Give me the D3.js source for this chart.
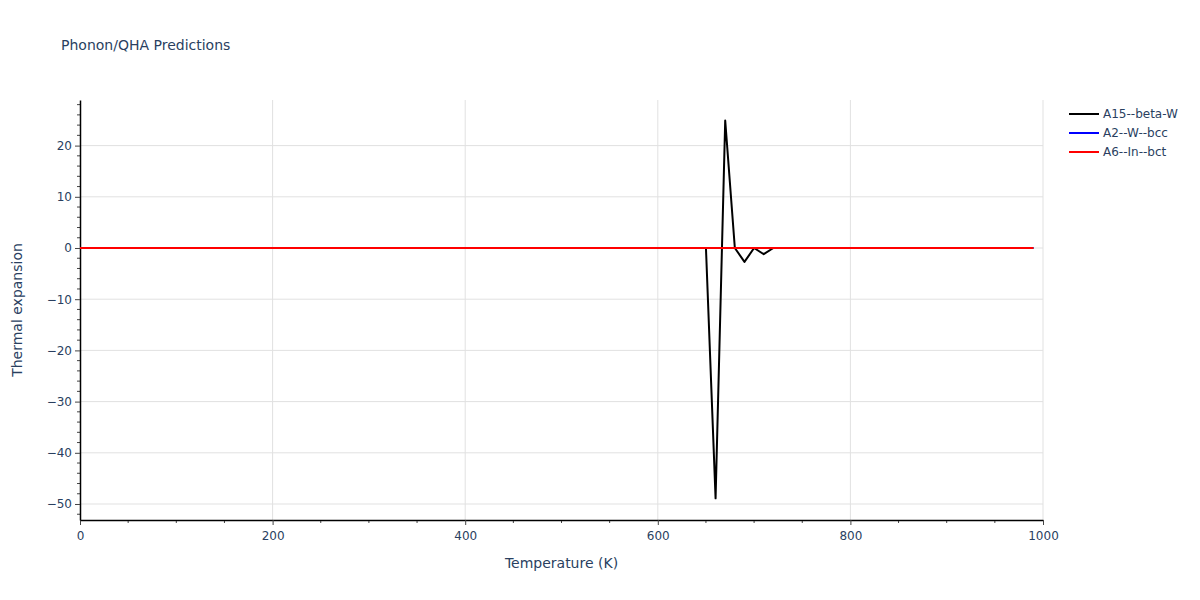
<!DOCTYPE html>
<html><head><meta charset="utf-8">
<script src="https://cdn.jsdelivr.net/npm/d3@7"></script>
<style>body{margin:0;background:#fff;} text{font-family:"DejaVu Sans",sans-serif;}</style>
</head><body><svg id="c" width="1200" height="600"></svg>
<script>
const temperatures = [0,10,20,30,40,50,60,70,80,90,100,110,120,130,140,150,160,170,180,190,200,210,220,230,240,250,260,270,280,290,300,310,320,330,340,350,360,370,380,390,400,410,420,430,440,450,460,470,480,490,500,510,520,530,540,550,560,570,580,590,600,610,620,630,640,650,660,670,680,690,700,710,720,730,740,750,760,770,780,790,800,810,820,830,840,850,860,870,880,890,900,910,920,930,940,950,960,970,980,990];
const a15Values = [0,0,0,0,0,0,0,0,0,0,0,0,0,0,0,0,0,0,0,0,0,0,0,0,0,0,0,0,0,0,0,0,0,0,0,0,0,0,0,0,0,0,0,0,0,0,0,0,0,0,0,0,0,0,0,0,0,0,0,0,0,0,0,0,0,0,-48.9,24.9,0,-2.7,0,-1.2,0,0,0,0,0,0,0,0,0,0,0,0,0,0,0,0,0,0,0,0,0,0,0,0,0,0,0,0];
const a2Values = [0,0,0,0,0,0,0,0,0,0,0,0,0,0,0,0,0,0,0,0,0,0,0,0,0,0,0,0,0,0,0,0,0,0,0,0,0,0,0,0,0,0,0,0,0,0,0,0,0,0,0,0,0,0,0,0,0,0,0,0,0,0,0,0,0,0,0,0,0,0,0,0,0,0,0,0,0,0,0,0,0,0,0,0,0,0,0,0,0,0,0,0,0,0,0,0,0,0,0,0];
const a6Values = [0,0,0,0,0,0,0,0,0,0,0,0,0,0,0,0,0,0,0,0,0,0,0,0,0,0,0,0,0,0,0,0,0,0,0,0,0,0,0,0,0,0,0,0,0,0,0,0,0,0,0,0,0,0,0,0,0,0,0,0,0,0,0,0,0,0,0,0,0,0,0,0,0,0,0,0,0,0,0,0,0,0,0,0,0,0,0,0,0,0,0,0,0,0,0,0,0,0,0,0];
const seriesNames = ["A15--beta-W","A2--W--bcc","A6--In--bct"];
const seriesColors = ["#000000","#0000ff","#ff0000"];
const xTicks = [0,200,400,600,800,1000];
const yTicks = [-50,-40,-30,-20,-10,0,10,20];

const svg = d3.select("#c");
const L=80, R=1043, T=100, B=520;
const x = d3.scaleLinear().domain([0,1000]).range([L,R]);
const y = d3.scaleLinear().domain([-53.125,28.906]).range([B,T]);
const txt = "#2a3f5f";
const FF = "'DejaVu Sans',sans-serif";

// grid
svg.append("g").selectAll("line").data(xTicks.filter(d=>d>0)).join("line")
  .attr("x1",d=>x(d)).attr("x2",d=>x(d)).attr("y1",T).attr("y2",B)
  .attr("stroke","#e1e1e1").attr("stroke-width",1);
svg.append("g").selectAll("line").data(yTicks).join("line")
  .attr("x1",L).attr("x2",R).attr("y1",d=>y(d)).attr("y2",d=>y(d))
  .attr("stroke","#e1e1e1").attr("stroke-width",1);

// minor ticks
const yMinor = d3.range(-52,29,2).filter(v=>v%10!==0);
svg.append("g").selectAll("line").data(yMinor).join("line")
  .attr("x1",L-3).attr("x2",L).attr("y1",d=>y(d)).attr("y2",d=>y(d))
  .attr("stroke","#444").attr("stroke-width",1);
const xMinor = d3.range(50,1000,50).filter(v=>v%200!==0);
svg.append("g").selectAll("line").data(xMinor).join("line")
  .attr("y1",B).attr("y2",B+3).attr("x1",d=>x(d)).attr("x2",d=>x(d))
  .attr("stroke","#444").attr("stroke-width",1);

// axes
const fmt = d=> d<0 ? "\u2212"+Math.abs(d) : String(d);
const xa = svg.append("g").attr("transform",`translate(0,${B})`)
  .call(d3.axisBottom(x).tickValues(xTicks).tickSize(5).tickSizeOuter(0).tickFormat(fmt));
const ya = svg.append("g").attr("transform",`translate(${L},0)`)
  .call(d3.axisLeft(y).tickValues(yTicks).tickSize(5).tickSizeOuter(0).tickFormat(fmt));
[xa,ya].forEach(a=>{
  a.select(".domain").attr("stroke","#000").attr("stroke-width",1.5);
  a.selectAll(".tick line").attr("stroke","#444");
  a.selectAll("text").attr("fill",txt).attr("font-size",12).attr("font-family",FF);
});
xa.selectAll("text").attr("dy","0").attr("y",20);
ya.selectAll("text").attr("x",-8);

// lines
const allValues = [a15Values,a2Values,a6Values];
const line = d3.line().x(d=>x(d[0])).y(d=>y(d[1]));
allValues.forEach((vals,i)=>{
  svg.append("path").datum(temperatures.map((t,j)=>[t,vals[j]]))
    .attr("d",line).attr("fill","none").attr("stroke",seriesColors[i])
    .attr("stroke-width",2).attr("stroke-linejoin","round");
});

// titles
svg.append("text").attr("x",61).attr("y",50).text("Phonon/QHA Predictions")
  .attr("fill",txt).attr("font-size",14).attr("font-family",FF);
svg.append("text").attr("x",(L+R)/2).attr("y",568).attr("text-anchor","middle")
  .text("Temperature (K)").attr("fill",txt).attr("font-size",14).attr("font-family",FF);
svg.append("text").attr("transform",`translate(22,${(T+B)/2}) rotate(-90)`).attr("text-anchor","middle")
  .text("Thermal expansion").attr("fill",txt).attr("font-size",14).attr("font-family",FF);

// legend
seriesNames.forEach((n,i)=>{
  const yy = 114 + i*19;
  svg.append("line").attr("x1",1069).attr("x2",1099).attr("y1",yy).attr("y2",yy)
    .attr("stroke",seriesColors[i]).attr("stroke-width",2);
  svg.append("text").attr("x",1103).attr("y",yy+4).text(n).attr("fill",txt).attr("font-size",12).attr("font-family",FF);
});
</script></body></html>
